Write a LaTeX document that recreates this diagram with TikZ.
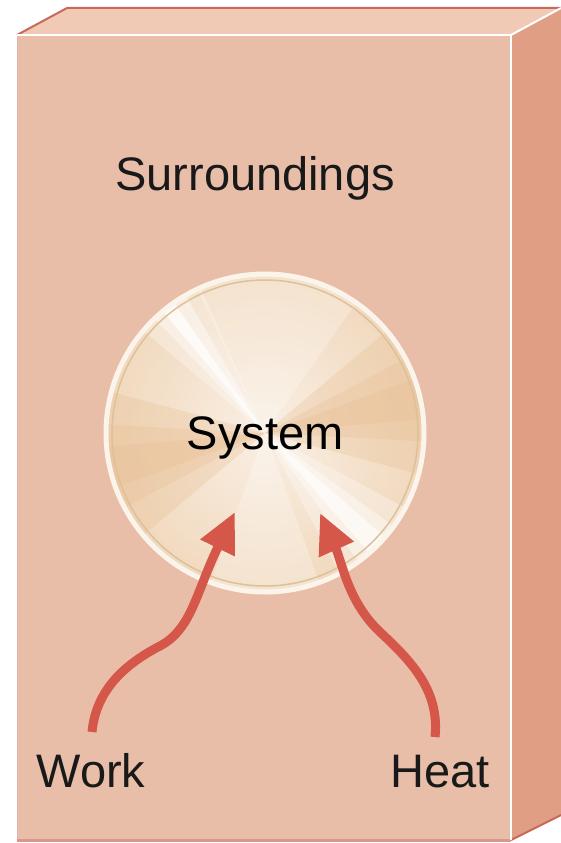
\documentclass[tikz,border=0pt]{standalone}
\usepackage{fontspec}
\setmainfont{Liberation Sans}
\usetikzlibrary{arrows.meta}

\definecolor{vorne}{HTML}{E9BEA8}
\definecolor{seite}{HTML}{E09E84}
\definecolor{oben}{HTML}{F1CAB6}
\definecolor{kante}{HTML}{C8695B}
\definecolor{pfeil}{HTML}{D4574A}
\definecolor{scheibe}{HTML}{F1D9BE}
\definecolor{ring}{HTML}{DDC199}
\definecolor{tief}{HTML}{E8BE92}

\begin{document}
\begin{tikzpicture}[x=1pt,y=-1pt,>={Triangle[length=40pt,width=36pt]},
    txt/.style={font=\fontsize{47}{56}\selectfont,text=black!90,anchor=base,inner sep=0pt},
    flow/.style={->,draw=pfeil,line width=9pt},
    keil/.style={opacity=.3},
    disc/.style={circle,minimum size=318pt,inner sep=0pt,draw=white!70!scheibe,line width=5pt,
        font=\fontsize{47}{56}\selectfont,text height=33pt,text depth=0pt,
        inner color=white!60!scheibe,outer color=scheibe,
        path picture={
            \coordinate (m) at (path picture bounding box.center);
            % dunklere Keile links und rechts
            \fill[tief,keil] (m) -- ++(140:170) arc[start angle=140,end angle=195,radius=170] -- cycle;
            \fill[tief,keil] (m) -- ++(152:170) arc[start angle=152,end angle=183,radius=170] -- cycle;
            \fill[tief,keil] (m) -- ++(160:170) arc[start angle=160,end angle=175,radius=170] -- cycle;
            \fill[tief,keil] (m) -- ++(-40:170) arc[start angle=-40,end angle=15,radius=170] -- cycle;
            \fill[tief,keil] (m) -- ++(-28:170) arc[start angle=-28,end angle=3,radius=170] -- cycle;
            \fill[tief,keil] (m) -- ++(-20:170) arc[start angle=-20,end angle=-5,radius=170] -- cycle;
            % heller Bereich oben
            \fill[white,opacity=.25] (m) -- ++(-115:170) arc[start angle=-115,end angle=-55,radius=170] -- cycle;
            % helle Streifen
            \fill[white,opacity=.3] (m) -- ++(-140:170) arc[start angle=-140,end angle=-114,radius=170] -- cycle;
            \fill[white,opacity=.4] (m) -- ++(-134:170) arc[start angle=-134,end angle=-120,radius=170] -- cycle;
            \fill[white,opacity=.7] (m) -- ++(-130:170) arc[start angle=-130,end angle=-125,radius=170] -- cycle;
            \fill[white,opacity=.3] (m) -- ++(28:170) arc[start angle=28,end angle=62,radius=170] -- cycle;
            \fill[white,opacity=.4] (m) -- ++(36:170) arc[start angle=36,end angle=54,radius=170] -- cycle;
            \fill[white,opacity=.6] (m) -- ++(41:170) arc[start angle=41,end angle=49,radius=170] -- cycle;
            % unten heller
            \fill[white,opacity=.25] (m) -- ++(70:170) arc[start angle=70,end angle=110,radius=170] -- cycle;
        }}]

    % ---------------------------------------------------------
    % Bounding Box (561 x 843)
    % ---------------------------------------------------------
    \useasboundingbox (0,0) rectangle (561,843);

    % ---------------------------------------------------------
    % Quader: Vorderseite, Deckflaeche, Seitenflaeche
    % ---------------------------------------------------------
    \fill[vorne] (17,35) rectangle (511,840);
    \fill[oben] (17,35) -- (67,8) -- (561,8) -- (511,35) -- cycle;
    \fill[seite] (511,35) -- (561,8) -- (561,815) -- (511,840) -- cycle;

    % Kanten
    \draw[kante,line width=2pt] (17,35) -- (67,8) -- (561,8);
    \draw[kante!50,line width=1pt] (17,35) -- (17,840);
    \draw[kante!70,line width=3pt] (17,840) -- (511,840);
    \draw[kante,line width=2pt] (511,840) -- (561,815);
    \draw[white,line width=2pt] (17,35) -- (511,35) -- (511,840);
    \draw[white,line width=2pt] (511,35) -- (561,8);

    % ---------------------------------------------------------
    % Beschriftungen
    % ---------------------------------------------------------
    \node[txt] (surr) at (255,190) {Surroundings};
    \node[txt] (work) at (91,787) {Work};
    \node[txt] (heat) at (440,787) {Heat};

    % ---------------------------------------------------------
    % System (Scheibe)
    % ---------------------------------------------------------
    \node[disc] (sys) at (265,433) {System};
    \draw[ring,line width=1.5pt] (sys.center) circle[radius=153];

    % ---------------------------------------------------------
    % Pfeile: Arbeit und Waerme
    % ---------------------------------------------------------
    \coordinate (w0) at (92,732);
    \coordinate (w1) at (235,512);
    \coordinate (h0) at (435,737);
    \coordinate (h1) at (320,513);

    \draw[flow] (w0) .. controls (96,690) and (125,664) .. (160,646)
        .. controls (192,629) and (196,592) .. (w1);
    \draw[flow] (h0) .. controls (440,690) and (410,660) .. (380,632)
        .. controls (348,602) and (342,562) .. (h1);

\end{tikzpicture}
\end{document}
